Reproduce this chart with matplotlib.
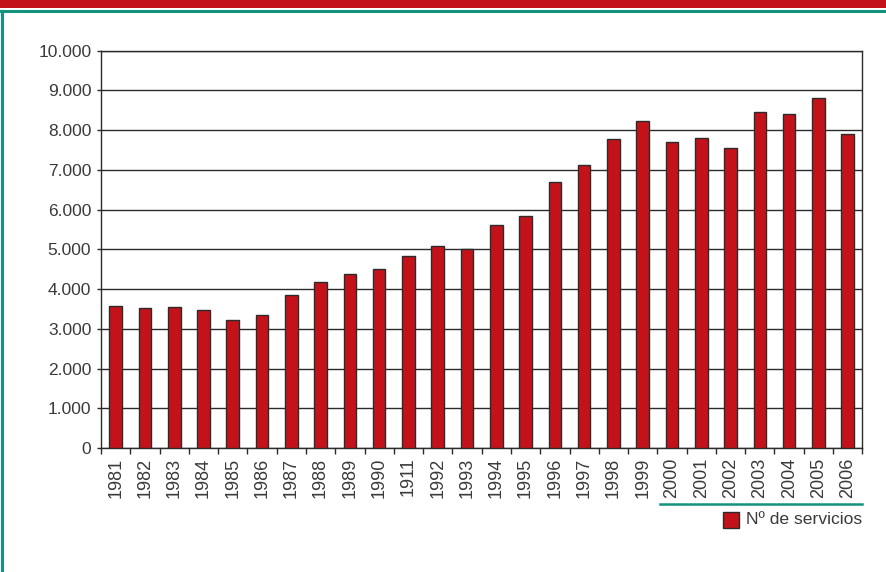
import numpy as np
import matplotlib.pyplot as plt
from matplotlib.lines import Line2D
from matplotlib.patches import Rectangle
from matplotlib.ticker import FuncFormatter

# data
years = ['1981', '1982', '1983', '1984', '1985', '1986', '1987', '1988', '1989',
         '1990', '1911', '1992', '1993', '1994', '1995', '1996', '1997', '1998',
         '1999', '2000', '2001', '2002', '2003', '2004', '2005', '2006']
servicios = [3580, 3530, 3560, 3480, 3230, 3340, 3860, 4180, 4390,
             4510, 4820, 5080, 5020, 5620, 5830, 6690, 7120, 7770,
             8230, 7690, 7790, 7540, 8460, 8410, 8820, 7900]
legend_label = 'Nº de servicios'

RED = '#C4121A'
TEAL = '#13927E'
DARK = '#2b2b2b'
TXT = '#3a3a3a'

plt.rcParams['font.family'] = ['Liberation Sans', 'DejaVu Sans']

fig = plt.figure(figsize=(8.86, 5.72), dpi=100)
ax = fig.add_axes([0.114, 0.2168, 0.8593, 0.6946])

x = np.arange(len(years))
ax.bar(x, servicios, width=0.43, color=RED, edgecolor=DARK, linewidth=1.0, zorder=3)

ax.set_xlim(-0.5, len(years) - 0.5)
ax.set_ylim(0, 10000)
ax.set_yticks(np.arange(0, 10001, 1000))
ax.yaxis.set_major_formatter(FuncFormatter(lambda v, p: f'{int(v):,}'.replace(',', '.')))
ax.grid(axis='y', color=DARK, linewidth=1.0, zorder=1)

ax.set_xticks(x)
ax.set_xticklabels(years, rotation=90)
ax.set_xticks(np.arange(-0.5, len(years), 1.0), minor=True)
ax.tick_params(axis='x', which='major', length=0, pad=7, labelsize=13, labelcolor=TXT)
ax.tick_params(axis='x', which='minor', length=4, width=1, color=DARK, direction='out')
ax.tick_params(axis='y', length=3, width=1, color=DARK, pad=4, labelsize=12.5, labelcolor=TXT)

for s in ax.spines.values():
    s.set_color(DARK)
    s.set_linewidth(1.0)

# legend below the axis, with teal rule above it
fig.add_artist(Line2D([660 / 886, 862 / 886], [1 - 504 / 572, 1 - 504 / 572],
                      color=TEAL, linewidth=1.8, transform=fig.transFigure))
fig.add_artist(Rectangle((723 / 886, 1 - 528 / 572), 16 / 886, 16 / 572,
                         facecolor=RED, edgecolor=DARK, linewidth=1.0,
                         transform=fig.transFigure))
fig.text(862 / 886, 1 - 520 / 572, legend_label, fontsize=12.6, color=TXT,
         va='center', ha='right')

# page frame: red band, teal rule and left teal border
fig.add_artist(Rectangle((0, 1 - 7.5 / 572), 1, 7.5 / 572, facecolor=RED,
                         edgecolor='none', transform=fig.transFigure))
fig.add_artist(Line2D([0, 1], [1 - 10.5 / 572, 1 - 10.5 / 572], color=TEAL,
                      linewidth=2.2, transform=fig.transFigure))
fig.add_artist(Line2D([2 / 886, 2 / 886], [0, 1 - 10.5 / 572], color=TEAL,
                      linewidth=2.2, transform=fig.transFigure))

fig.savefig('out.png', dpi=100)
